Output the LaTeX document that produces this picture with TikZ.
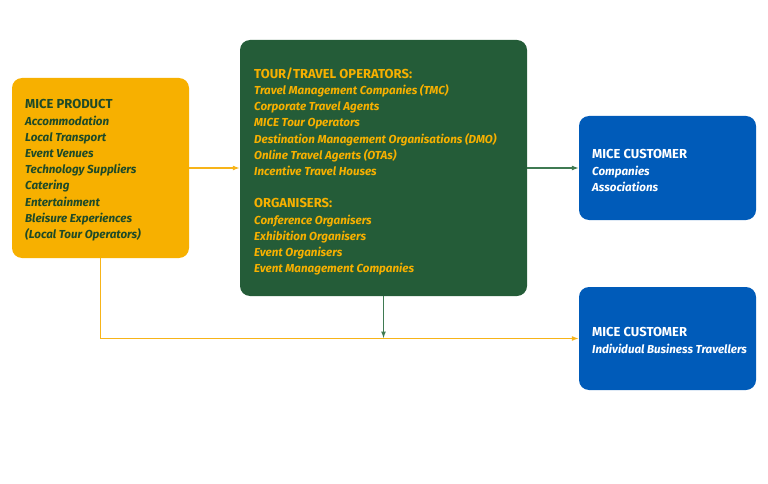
\documentclass[tikz,border=0pt]{standalone}
\usepackage{fontspec}
\setmainfont{Fira Sans}
\usetikzlibrary{arrows.meta}
\definecolor{micoorange}{HTML}{F7B000}
\definecolor{micogreen}{HTML}{245C38}
\definecolor{micoblue}{HTML}{005BB9}
\definecolor{micodark}{HTML}{1E4A28}
\definecolor{micoline}{HTML}{3F7A52}
\definecolor{micoyline}{HTML}{F7B419}
\newcommand{\hdline}[1]{{\fontsize{13}{16.2}\selectfont\upshape #1}}
\tikzset{
  box/.style={rectangle, rounded corners=10pt, draw=none, inner sep=0pt},
  txt/.style={anchor=north west, inner sep=0pt, align=left,
    font=\fontsize{11.6}{16.2}\selectfont\bfseries\itshape},
  garrow/.style={draw=micoline, line width=1.3pt, -{Latex[length=7pt,width=5pt]}},
  oarrow/.style={draw=micoyline, line width=1.3pt, -{Latex[length=7pt,width=5pt]}}
}
\begin{document}
\begin{tikzpicture}[x=1pt,y=-1pt]
\useasboundingbox (0,0) rectangle (768,484);
\node[box, fill=micoorange, minimum width=177pt, minimum height=180pt] (prod) at (100.5,168) {};
\node[box, fill=micogreen, minimum width=287pt, minimum height=256pt] (ops) at (383.5,168) {};
\node[box, fill=micoblue, minimum width=177pt, minimum height=104pt] (cust1) at (667.5,168) {};
\node[box, fill=micoblue, minimum width=177pt, minimum height=103pt] (cust2) at (667.5,338.5) {};

\node[txt, text=micodark] (prodtxt) at (25,99.5) {\hdline{MICE PRODUCT}\\
Accommodation\\
Local Transport\\
Event Venues\\
Technology Suppliers\\
Catering\\
Entertainment\\
Bleisure Experiences\\
(Local Tour Operators)};

\node[txt, text=micoorange] (opstxt) at (254,67.5) {\hdline{TOUR/TRAVEL OPERATORS:}\\
Travel Management Companies (TMC)\\
Corporate Travel Agents\\
MICE Tour Operators\\
Destination Management Organisations (DMO)\\
Online Travel Agents (OTAs)\\
Incentive Travel Houses\\[16.2pt]
\hdline{ORGANISERS:}\\
Conference Organisers\\
Exhibition Organisers\\
Event Organisers\\
Event Management Companies};

\node[txt, text=white] (c1txt) at (592,149.5) {\hdline{MICE CUSTOMER}\\
Companies\\
Associations};

\node[txt, text=white] (c2txt) at (592,327.5) {\hdline{MICE CUSTOMER}\\
Individual Business Travellers};

\draw[oarrow] (prod.east) -- (ops.west);
\draw[garrow] (ops.east) -- (cust1.west);
\draw[oarrow] (prod.south) |- (cust2.west);
\draw[garrow] (ops.south) -- (ops.south |- cust2.west);
\end{tikzpicture}
\end{document}
